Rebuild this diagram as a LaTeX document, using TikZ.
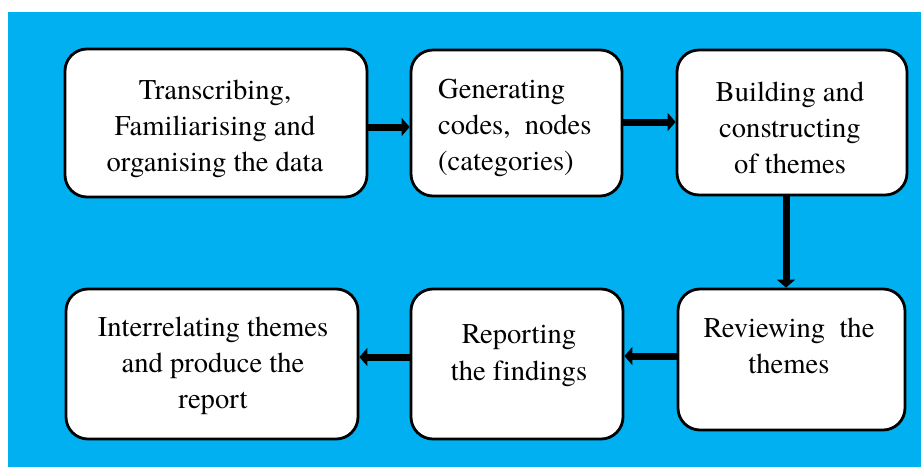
\documentclass[tikz,border=0pt]{standalone}
\usepackage{fontspec}
\IfFontExistsTF{texgyretermes-regular.otf}
  {\setmainfont{texgyretermes-regular.otf}[Ligatures=NoCommon]}
  {\setmainfont{Liberation Serif}}
\usetikzlibrary{arrows.meta}
\definecolor{bgblue}{HTML}{00B0F0}
\begin{document}
\begin{tikzpicture}[x=1pt,y=-1pt,
  stepbox/.style={draw=black,line width=2.8pt,fill=white,rounded corners=22pt,inner sep=0pt},
  boxtext/.style={inner sep=0pt,font=\rmfamily\fontsize{28.6}{36.3}\selectfont},
  arr/.style={line width=7pt,-{Triangle[length=8pt,width=18pt]}}]
\useasboundingbox (0,0) rectangle (921,467);
\fill[bgblue] (8,12) rectangle (921,467);
% boxes
\node[stepbox,minimum width=302pt,minimum height=148pt] (b1) at (216,123) {};
\node[stepbox,minimum width=211pt,minimum height=146pt] (b2) at (516.5,123) {};
\node[stepbox,minimum width=230pt,minimum height=145pt] (b3) at (792,122.5) {};
\node[stepbox,minimum width=227pt,minimum height=141pt] (b4) at (791.5,359.5) {};
\node[stepbox,minimum width=212pt,minimum height=150pt] (b5) at (517,364) {};
\node[stepbox,minimum width=292pt,minimum height=150pt] (b6) at (212,364) {};
% texts
\node[boxtext,align=center] (t1) at (215,129) {Transcribing,\\Familiarising and\\organising the data};
\node[boxtext,align=left,anchor=west] (t2) at (438,128) {Generating\\codes,\ \ nodes\\(categories)};
\node[boxtext,align=center] (t3) at (790,128) {Building and\\constructing\\of themes};
\node[boxtext,align=center] (t4) at (789,346) {Reviewing\ \ the\\themes};
\node[boxtext,align=center] (t5) at (519,355.5) {Reporting\\the findings};
\node[boxtext,align=center] (t6) at (213,366) {Interrelating themes\\and produce the\\report};
% connectors
\coordinate (r1) at (0,127);
\coordinate (r2) at (0,122);
\coordinate (c3) at (786,0);
\coordinate (r4) at (0,356);
\coordinate (r5) at (0,357);
\draw[arr] (b1.east |- r1) -- (b2.west |- r1);
\draw[arr] (b2.east |- r2) -- (b3.west |- r2);
\draw[arr] (b3.south -| c3) -- (b4.north -| c3);
\draw[arr] (b4.west |- r4) -- (b5.east |- r4);
\draw[arr] (b5.west |- r5) -- (b6.east |- r5);
\end{tikzpicture}
\end{document}
